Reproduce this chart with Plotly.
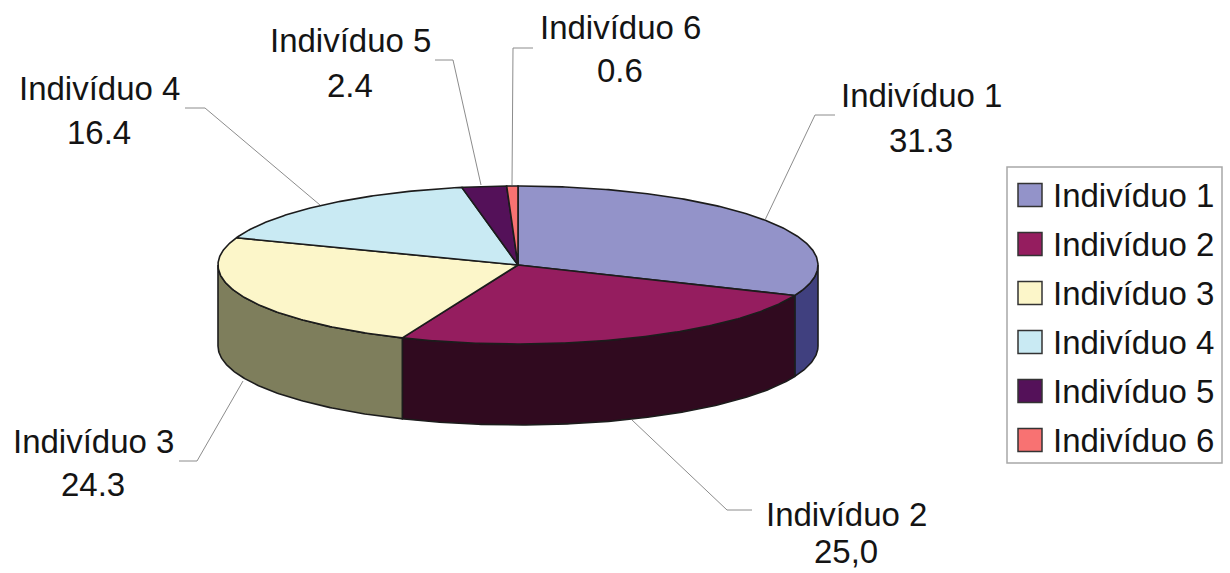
import numpy as np
import plotly.graph_objects as go

# Data
categories = ["Indivíduo 1", "Indivíduo 2", "Indivíduo 3", "Indivíduo 4", "Indivíduo 5", "Indivíduo 6"]
values = [31.3, 25.0, 24.3, 16.4, 2.4, 0.6]
value_labels = ["31.3", "25,0", "24.3", "16.4", "2.4", "0.6"]

# Colours of the upper face and of the outer wall
top_colors = ["#9393C9", "#951D5F", "#FCF6C9", "#C9EAF3", "#541159", "#F87272"]
wall_colors = ["#40407F", "#300A1F", "#7E7E5C", "#5F7479", "#2A082C", "#7C3939"]

# Pie geometry in page pixels
CX, CY, RX, RY, DEPTH = 518, 265, 300, 79, 81
EDGE = "#1c1c1c"
FONT = dict(family="Liberation Sans, Arial, sans-serif", size=33, color="#141414")

# Label placement: centre x, y of name line, y of value line
label_pos = [(921, 95, 140), (846, 514, 551), (93, 441, 484),
             (99, 88, 132), (350, 40, 85), (620, 27, 70)]
# Leader lines from label to slice
leaders = [
    ([835, 815, 765], [115, 115, 220]),
    ([752, 727, 632], [510, 510, 420]),
    ([179, 197, 243], [461, 461, 381]),
    ([185, 205, 320], [108, 108, 205]),
    ([435, 453, 481], [60, 60, 185]),
    ([533, 513, 512], [48, 48, 185]),
]

# Legend placement
LEG_X0, LEG_X1, LEG_Y0, LEG_Y1 = 1007, 1222, 167, 463
leg_rows = [195, 244, 293, 342, 391, 440]


def arc(a0, a1, dy=0.0):
    """Points on the rim, angles in degrees clockwise from twelve o'clock."""
    t = np.radians(np.linspace(a0, a1, max(int(abs(a1 - a0) * 2), 2) + 1))
    return CX + RX * np.sin(t), CY - RY * np.cos(t) + dy


fig = go.Figure()


def poly(x, y, fill, line=EDGE, width=1.6):
    fig.add_trace(go.Scatter(
        x=list(x), y=list(y), mode="lines", fill="toself", fillcolor=fill,
        line=dict(color=line, width=width), hoverinfo="skip", showlegend=False,
    ))


edges = np.concatenate([[0], np.cumsum(values)]) / sum(values) * 360

# Outer walls: only the part of the rim facing the viewer
for i in range(len(values)):
    a0, a1 = max(edges[i], 90), min(edges[i + 1], 270)
    if a1 > a0:
        xt, yt = arc(a0, a1)
        xb, yb = arc(a0, a1, DEPTH)
        poly(np.r_[xt, xb[::-1], xt[0]], np.r_[yt, yb[::-1], yt[0]], wall_colors[i])

# Upper faces
for i in range(len(values)):
    xt, yt = arc(edges[i], edges[i + 1])
    poly(np.r_[CX, xt, CX], np.r_[CY, yt, CY], top_colors[i])

# Leader lines
for lx, ly in leaders:
    fig.add_trace(go.Scatter(x=lx, y=ly, mode="lines", line=dict(color="#8c8c8c", width=1),
                             hoverinfo="skip", showlegend=False))

# Data labels
annotations = []
for name, val, (lx, y1, y2) in zip(categories, value_labels, label_pos):
    for txt, y in ((name, y1), (val, y2)):
        annotations.append(dict(x=lx, y=y, text=txt, showarrow=False, xanchor="center",
                                yanchor="middle", font=FONT, borderpad=0))

# Legend frame, swatches and entries
shapes = [dict(type="rect", x0=LEG_X0, x1=LEG_X1, y0=LEG_Y0, y1=LEG_Y1,
               line=dict(color="#a8a8a8", width=1.5), fillcolor="white", layer="below")]
for name, color, y in zip(categories, top_colors, leg_rows):
    shapes.append(dict(type="rect", x0=1018, x1=1042, y0=y - 11.5, y1=y + 11.5,
                       line=dict(color="#333333", width=1.5), fillcolor=color))
    annotations.append(dict(x=1052, y=y, text=name, showarrow=False, xanchor="left",
                            yanchor="middle", font=FONT, borderpad=0))

fig.update_layout(
    width=1230, height=573, margin=dict(l=0, r=0, t=0, b=0, pad=0),
    paper_bgcolor="white", plot_bgcolor="white", showlegend=False,
    xaxis=dict(range=[0, 1230], visible=False, fixedrange=True),
    yaxis=dict(range=[573, 0], visible=False, fixedrange=True),
    shapes=shapes, annotations=annotations,
)
fig.write_html("out.html", config=dict(displayModeBar=False))
